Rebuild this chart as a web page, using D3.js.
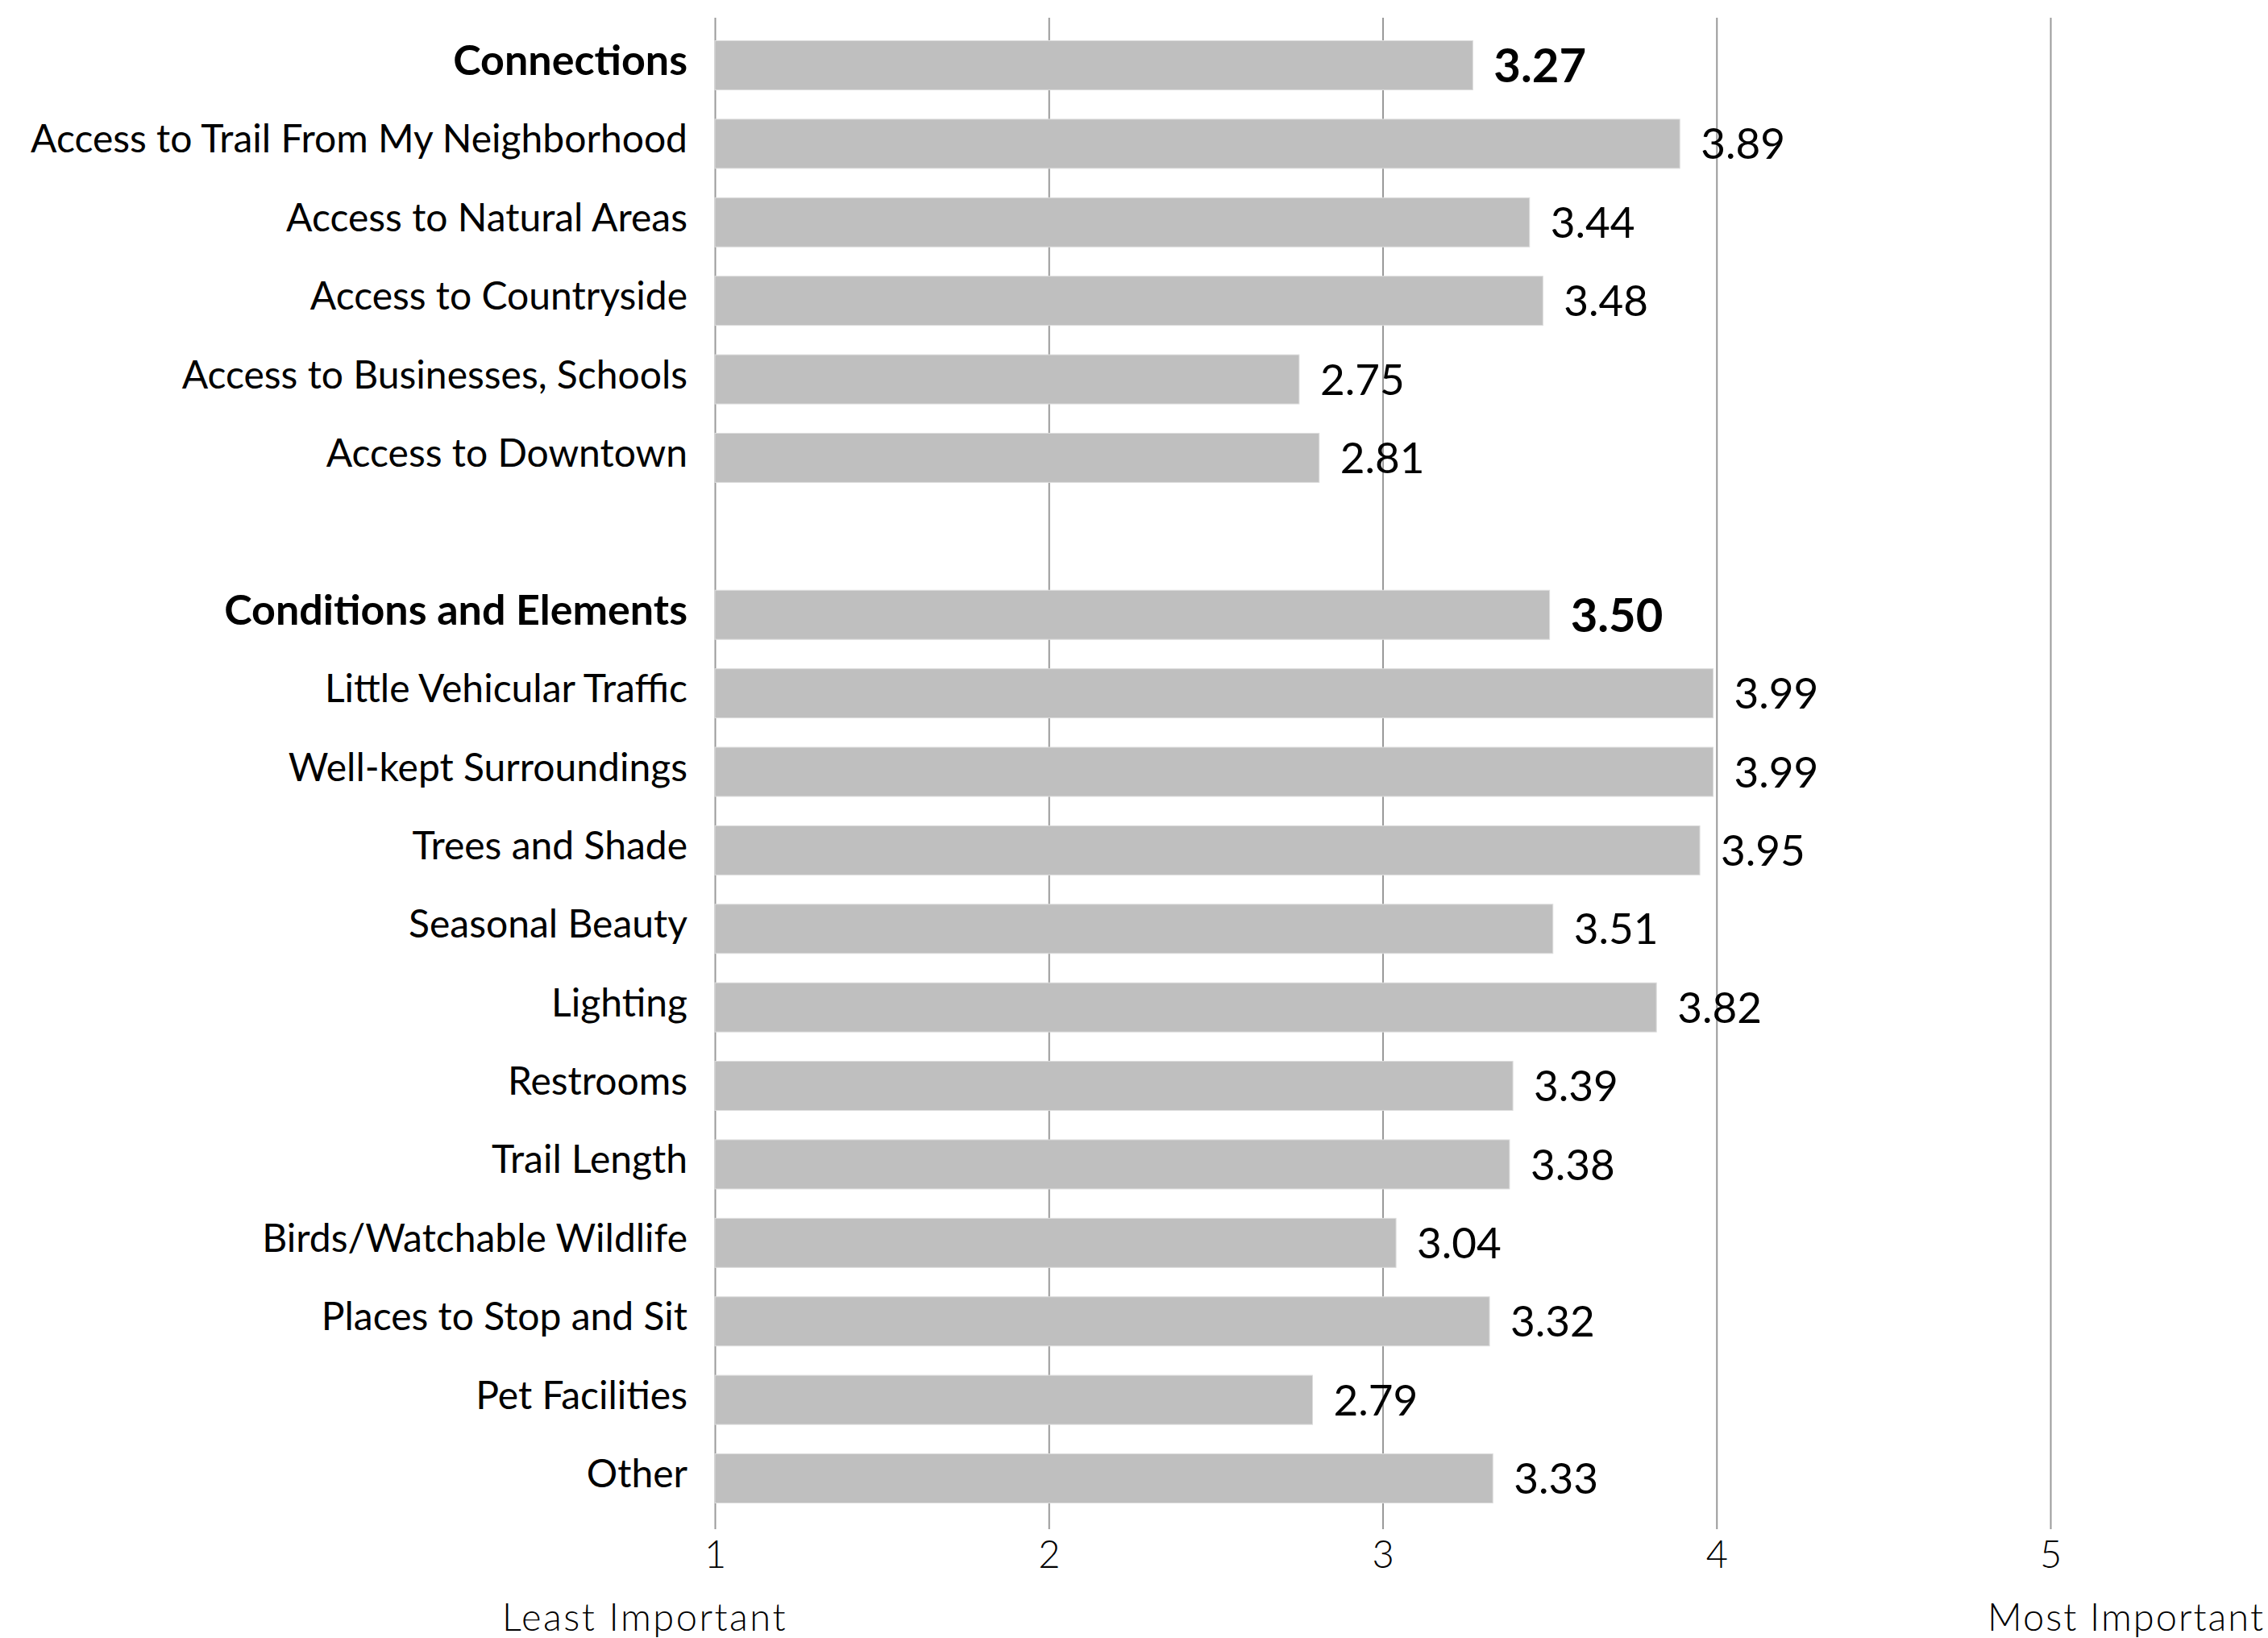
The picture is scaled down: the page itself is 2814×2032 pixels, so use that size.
<!DOCTYPE html>
<html>
<head>
<meta charset="utf-8">
<script src="https://cdn.jsdelivr.net/npm/d3@7"></script>
<style>
  html, body { margin: 0; padding: 0; background: #ffffff; }
  svg { display: block; }
</style>
</head>
<body>
<script>
// ---------- DATA ----------
const groupNames = ["Connections", "Conditions and Elements"];
const groupMeans = [3.27, 3.50];

const connectionsLabels = [
  "Access to Trail From My Neighborhood",
  "Access to Natural Areas",
  "Access to Countryside",
  "Access to Businesses, Schools",
  "Access to Downtown"
];
const connectionsValues = [3.89, 3.44, 3.48, 2.75, 2.81];

const conditionsLabels = [
  "Little Vehicular Traffic",
  "Well-kept Surroundings",
  "Trees and Shade",
  "Seasonal Beauty",
  "Lighting",
  "Restrooms",
  "Trail Length",
  "Birds/Watchable Wildlife",
  "Places to Stop and Sit",
  "Pet Facilities",
  "Other"
];
const conditionsValues = [3.99, 3.99, 3.95, 3.51, 3.82, 3.39, 3.38, 3.04, 3.32, 2.79, 3.33];

const tickValues = [1, 2, 3, 4, 5];
const axisEndLabels = ["Least Important", "Most Important"];

// ---------- BUILD ROWS ----------
const rows = [];
rows.push({ key: "g0", label: groupNames[0], value: groupMeans[0], bold: true });
connectionsLabels.forEach((l, i) => rows.push({ key: "c" + i, label: l, value: connectionsValues[i], bold: false }));
rows.push({ key: "blank", label: "", value: null, bold: false });
rows.push({ key: "g1", label: groupNames[1], value: groupMeans[1], bold: true });
conditionsLabels.forEach((l, i) => rows.push({ key: "e" + i, label: l, value: conditionsValues[i], bold: false }));

// ---------- LAYOUT ----------
const W = 2814, H = 2032;
const gridTop = 22, gridBottom = 1897;
const FONT = "Lato, 'Noto Sans', 'DejaVu Sans', sans-serif";

const svg = d3.select("body").append("svg")
  .attr("width", W).attr("height", H)
  .style("font-family", FONT);

const x = d3.scaleLinear().domain([1, 5]).range([887, 2544]);
const y = d3.scaleBand()
  .domain(rows.map(d => d.key))
  .range([32.3, 1882.7])
  .paddingInner(0.374)
  .paddingOuter(0.187);

// Gridlines + tick labels via axis
const xAxis = d3.axisBottom(x)
  .tickValues(tickValues)
  .tickFormat(d3.format("d"))
  .tickSize(-(gridBottom - gridTop));

const gx = svg.append("g")
  .attr("transform", `translate(0,${gridBottom})`)
  .call(xAxis);
gx.select(".domain").remove();
gx.selectAll(".tick line")
  .attr("stroke", "#9a9a9a")
  .attr("stroke-width", 2);
gx.selectAll(".tick text")
  .attr("y", 48)
  .attr("dy", 0)
  .attr("fill", "#000")
  .style("font-family", FONT)
  .style("font-size", "47px")
  .style("font-weight", 300);

// Bars
const dataRows = rows.filter(d => d.value !== null);
svg.append("g").selectAll("rect")
  .data(dataRows)
  .join("rect")
  .attr("x", x(1))
  .attr("y", d => y(d.key))
  .attr("width", d => x(d.value) - x(1))
  .attr("height", y.bandwidth())
  .attr("fill", "#bfbfbf")
  .attr("stroke", "#dcdcdc")
  .attr("stroke-width", 1);

// Value labels
svg.append("g").selectAll("text")
  .data(dataRows)
  .join("text")
  .attr("x", d => x(d.value) + 26)
  .attr("y", d => y(d.key) + y.bandwidth() / 2)
  .attr("dy", "0.36em")
  .attr("fill", "#000")
  .style("font-size", d => d.bold ? "58px" : "53px")
  .style("font-weight", d => d.bold ? 700 : 400)
  .text(d => d.value.toFixed(2));

// Category labels via left axis
const labelByKey = new Map(rows.map(d => [d.key, d]));
const yAxis = d3.axisLeft(y)
  .tickSize(0)
  .tickPadding(34)
  .tickFormat(k => labelByKey.get(k).label);
const gy = svg.append("g")
  .attr("transform", `translate(${x(1)},0)`)
  .call(yAxis);
gy.select(".domain").remove();
gy.selectAll(".tick text")
  .attr("dy", "0.23em")
  .attr("fill", "#000")
  .style("font-family", FONT)
  .style("font-size", k => labelByKey.get(k).bold ? "52px" : "48px")
  .style("font-weight", k => labelByKey.get(k).bold ? 700 : 400);

// Axis end labels
svg.append("text")
  .attr("x", 800).attr("y", 2023)
  .attr("text-anchor", "middle")
  .attr("fill", "#000")
  .style("font-size", "47px")
  .style("font-weight", 300)
  .style("letter-spacing", "2.5px")
  .text(axisEndLabels[0]);
svg.append("text")
  .attr("x", 2810).attr("y", 2023)
  .attr("text-anchor", "end")
  .attr("fill", "#000")
  .style("font-size", "47px")
  .style("font-weight", 300)
  .style("letter-spacing", "2px")
  .text(axisEndLabels[1]);
</script>
</body>
</html>
